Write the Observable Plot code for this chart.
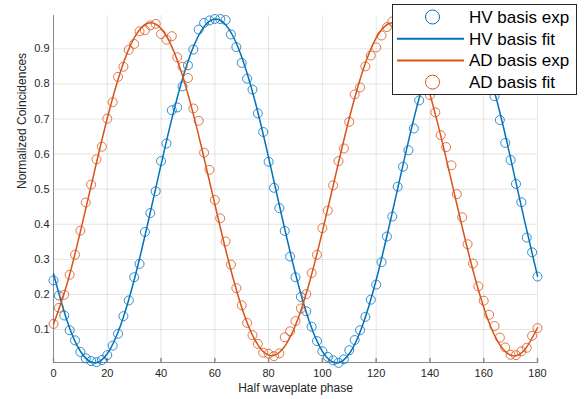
<!DOCTYPE html>
<html><head><meta charset="utf-8">
<script src="https://cdn.jsdelivr.net/npm/d3@7"></script>
<script src="https://cdn.jsdelivr.net/npm/@observablehq/plot@0.6"></script>
<style>
body{margin:0;background:#fff;}
#chart svg{font-family:"Liberation Sans",Arial,Helvetica,sans-serif;}
</style>
</head><body><div id="chart"></div>
<script>
const phase = [0,2,4,6,8,10,12,14,16,18,20,22,24,26,28,30,32,34,36,38,40,42,44,46,48,50,52,54,56,58,60,62,64,66,68,70,72,74,76,78,80,82,84,86,88,90,92,94,96,98,100,102,104,106,108,110,112,114,116,118,120,122,124,126,128,130,132,134,136,138,140,142,144,146,148,150,152,154,156,158,160,162,164,166,168,170,172,174,176,178,180];
const hvExp = [0.240,0.197,0.140,0.098,0.069,0.036,0.018,0.010,0.007,0.013,0.027,0.054,0.088,0.138,0.183,0.249,0.287,0.378,0.432,0.494,0.580,0.630,0.725,0.733,0.793,0.853,0.898,0.955,0.974,0.981,0.985,0.985,0.982,0.941,0.905,0.860,0.815,0.784,0.716,0.663,0.578,0.504,0.446,0.381,0.308,0.249,0.193,0.152,0.108,0.067,0.038,0.022,0.012,0.005,0.015,0.041,0.070,0.098,0.136,0.185,0.228,0.292,0.365,0.422,0.507,0.564,0.611,0.673,0.753,0.820,0.858,0.910,0.932,0.968,0.975,0.988,0.978,0.972,0.942,0.920,0.872,0.826,0.765,0.697,0.632,0.583,0.515,0.463,0.362,0.320,0.251];
const adExp = [0.116,0.162,0.199,0.256,0.313,0.382,0.462,0.513,0.585,0.621,0.701,0.748,0.820,0.849,0.897,0.914,0.950,0.953,0.967,0.971,0.942,0.926,0.936,0.876,0.849,0.817,0.730,0.695,0.604,0.555,0.469,0.417,0.351,0.285,0.218,0.169,0.119,0.084,0.059,0.034,0.031,0.024,0.032,0.078,0.095,0.124,0.160,0.201,0.261,0.313,0.389,0.439,0.511,0.580,0.616,0.692,0.770,0.790,0.850,0.881,0.904,0.938,0.962,0.978,0.968,0.960,0.932,0.910,0.862,0.828,0.768,0.719,0.654,0.620,0.568,0.486,0.420,0.343,0.288,0.223,0.182,0.142,0.110,0.077,0.049,0.028,0.027,0.038,0.048,0.082,0.104];
const fitPhase = [0,5,10,15,20,25,30,35,40,45,50,55,60,65,70,75,80,85,90,95,100,105,110,115,120,125,130,135,140,145,150,155,160,165,170,175,180];
const hvFit = [0.259,0.126,0.038,0.005,0.031,0.113,0.241,0.400,0.570,0.731,0.864,0.952,0.985,0.959,0.877,0.749,0.590,0.420,0.259,0.126,0.038,0.005,0.031,0.113,0.241,0.400,0.570,0.731,0.864,0.952,0.985,0.959,0.877,0.749,0.588,0.416,0.252];
const adFit = [0.115,0.229,0.379,0.543,0.702,0.837,0.931,0.973,0.958,0.888,0.771,0.621,0.457,0.298,0.163,0.069,0.027,0.042,0.112,0.229,0.379,0.543,0.702,0.837,0.931,0.973,0.958,0.888,0.771,0.621,0.457,0.298,0.163,0.069,0.027,0.040,0.105];
const xTicks = [0,20,40,60,80,100,120,140,160,180];
const yTicks = [0.1,0.2,0.3,0.4,0.5,0.6,0.7,0.8,0.9];
const legendLabels = ["HV basis exp","HV basis fit","AD basis exp","AD basis fit"];
const xLabel = "Half waveplate phase";
const yLabel = "Normalized Coincidences";

const blue = "#0072BD", orange = "#D95319";
const yMin = 0.006, yMax = 0.995;
const hvPts = phase.map((p, i) => ({p, v: hvExp[i]}));
const adPts = phase.map((p, i) => ({p, v: adExp[i]}));
const hvLine = fitPhase.map((p, i) => ({p, v: hvFit[i]}));
const adLine = fitPhase.map((p, i) => ({p, v: adFit[i]}));
const axisColor = "#8a8a8a";
const tickShape = {draw(context, l) { context.moveTo(0, 0); context.lineTo(0, -l); }};

const chart = Plot.plot({
  width: 584, height: 399,
  marginLeft: 53, marginRight: 47, marginTop: 15, marginBottom: 37,
  style: {fontFamily: '"Liberation Sans",Arial,Helvetica,sans-serif', fontSize: "11px", color: "#262626", background: "#fff"},
  x: {domain: [0, 180]},
  y: {domain: [yMin, yMax]},
  marks: [
    Plot.gridX(xTicks, {stroke: "#262626", strokeOpacity: 0.12}),
    Plot.gridY(yTicks, {stroke: "#262626", strokeOpacity: 0.12}),
    Plot.ruleX([0], {y1: yMin, y2: yMax, stroke: axisColor}),
    Plot.ruleY([yMin], {x1: 0, x2: 180, stroke: axisColor}),
    Plot.vector(xTicks, {x: d => d, y: yMin, length: 4, rotate: 0, anchor: "start", shape: tickShape, stroke: axisColor}),
    Plot.axisX(xTicks, {tickSize: 0, tickPadding: 7, label: null, fill: "#262626", fontSize: 11}),
    Plot.axisY(yTicks, {tickSize: 0, tickPadding: 4, label: null, fill: "#262626", fontSize: 11, tickFormat: d => d.toFixed(1)}),
    Plot.dot(hvPts, {x: "p", y: "v", r: 4.5, stroke: blue, strokeWidth: 0.8, fill: "none"}),
    Plot.line(hvLine, {x: "p", y: "v", stroke: blue, strokeWidth: 1.5, curve: "natural"}),
    Plot.line(adLine, {x: "p", y: "v", stroke: orange, strokeWidth: 1.5, curve: "natural"}),
    Plot.dot(adPts, {x: "p", y: "v", r: 4.5, stroke: orange, strokeWidth: 0.8, fill: "none"}),
    Plot.text([xLabel], {text: d => d, frameAnchor: "bottom", dy: 29, fontSize: 12, fill: "#262626"}),
    Plot.text([yLabel], {text: d => d, frameAnchor: "left", dx: -31, rotate: -90, fontSize: 12, fill: "#262626"})
  ]
});
document.getElementById("chart").appendChild(chart);

// Legend overlay (upper right, opaque)
const svg = d3.select(chart);
const lg = svg.append("g").attr("font-family", '"Liberation Sans",Arial,Helvetica,sans-serif')
  .attr("font-size", 17).attr("text-anchor", "start");
lg.append("rect").attr("x", 392.5).attr("y", 4.5).attr("width", 184).attr("height", 90)
  .attr("fill", "#fff").attr("stroke", "#262626").attr("stroke-width", 1);
const kinds = ["circle", "line", "line", "circle"];
const colors = [blue, blue, orange, orange];
legendLabels.forEach((t, i) => {
  const cy = 17 + i * 21.7;
  if (kinds[i] === "circle") {
    lg.append("circle").attr("cx", 432.5).attr("cy", cy).attr("r", 7).attr("fill", "none")
      .attr("stroke", colors[i]).attr("stroke-width", 1);
  } else {
    lg.append("line").attr("x1", 397).attr("x2", 464).attr("y1", cy).attr("y2", cy)
      .attr("stroke", colors[i]).attr("stroke-width", 2);
  }
  lg.append("text").attr("x", 469).attr("y", cy).attr("dy", "0.35em").attr("fill", "#000")
    .attr("text-anchor", "start").text(t);
});
</script>
</body></html>
